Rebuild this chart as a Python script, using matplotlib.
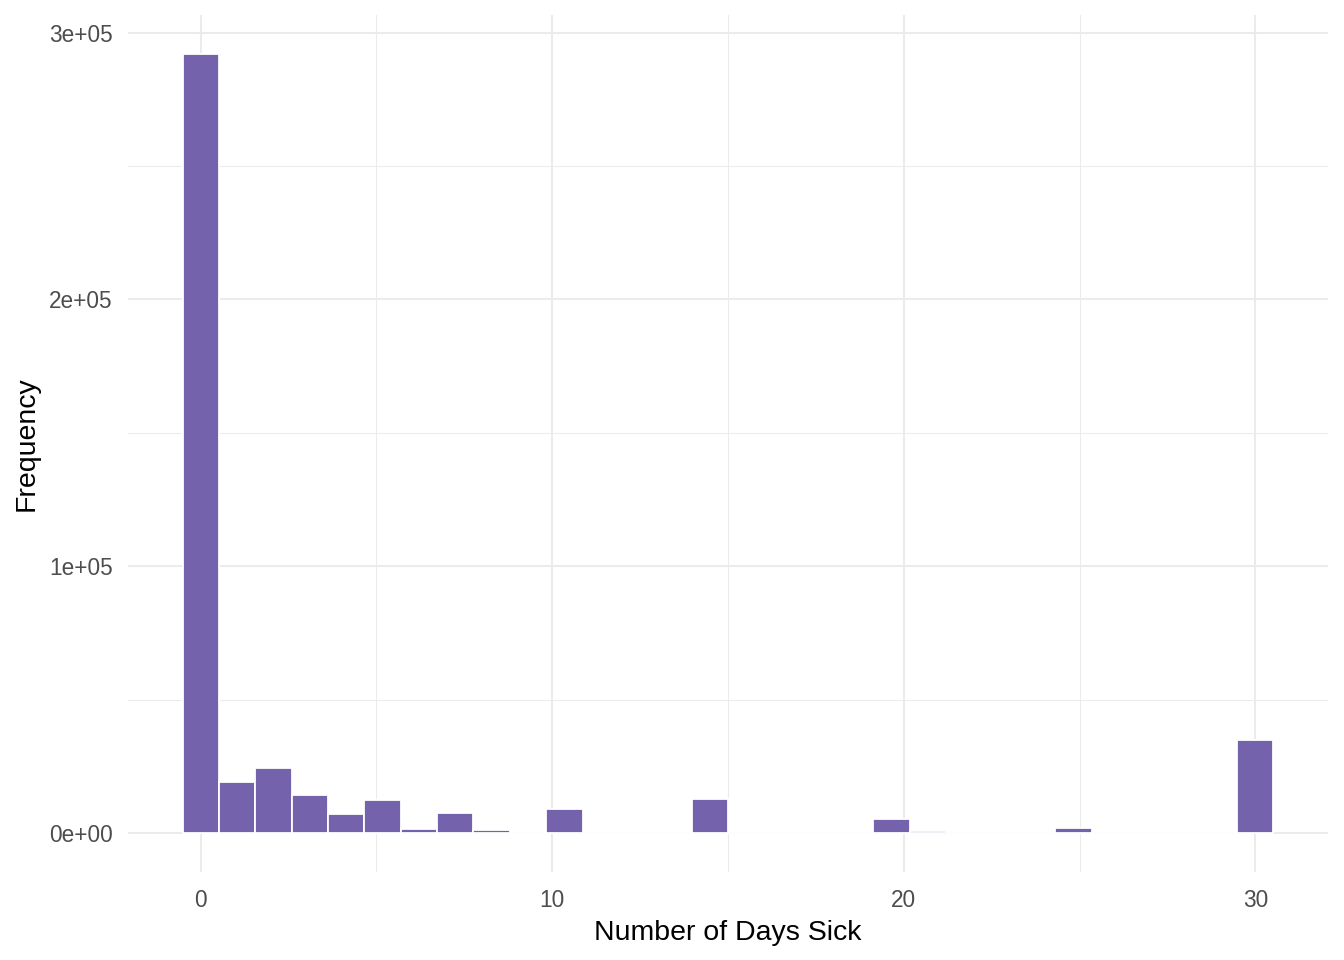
import numpy as np
import matplotlib
matplotlib.use("Agg")
import matplotlib.pyplot as plt
from matplotlib.ticker import FixedLocator, FuncFormatter

plt.rcParams['font.family'] = ['Liberation Sans', 'DejaVu Sans']

# histogram of days sick: 30 bins spanning 0..30 (ggplot bins = 30)
day_min = 0
day_max = 30
n_bins = 30
counts = [292000, 19000, 24300, 14200, 7000, 12300, 1400, 7400, 1100, 0,
          8900, 0, 0, 0, 12700, 0, 0, 0, 0, 5200,
          700, 0, 0, 0, 1800, 0, 0, 0, 0, 35000]

x_ticks = [0, 10, 20, 30]
y_ticks = [0, 100000, 200000, 300000]
y_tick_labels = ['0e+00', '1e+05', '2e+05', '3e+05']

bar_color = '#7463AC'
grid_color = '#EBEBEB'

binwidth = (day_max - day_min) / (n_bins - 1)
centers = day_min + binwidth * np.arange(n_bins)

fig = plt.figure(figsize=(13.44, 9.6), dpi=100)
ax = fig.add_axes([128 / 1344, 88 / 960, 1200 / 1344, 857 / 960])

ax.bar(centers, counts, width=binwidth, color=bar_color,
       edgecolor='white', linewidth=1.3, zorder=3)

# ggplot-style 5% expansion
lo = centers[0] - binwidth / 2
hi = centers[-1] + binwidth / 2
pad = (hi - lo) * 0.05
ax.set_xlim(lo - pad, hi + pad)
ymax = max(counts)
ax.set_ylim(-ymax * 0.05, ymax * 1.05)

ax.xaxis.set_major_locator(FixedLocator(x_ticks))
ax.xaxis.set_minor_locator(FixedLocator([5, 15, 25]))
ax.yaxis.set_major_locator(FixedLocator(y_ticks))
ax.yaxis.set_minor_locator(FixedLocator([50000, 150000, 250000]))
ax.yaxis.set_major_formatter(FuncFormatter(lambda v, p: y_tick_labels[y_ticks.index(int(v))]))

ax.grid(which='major', color=grid_color, linewidth=1.5, zorder=0)
ax.grid(which='minor', color=grid_color, linewidth=0.75, zorder=0)
ax.set_axisbelow(True)

for s in ax.spines.values():
    s.set_visible(False)
ax.tick_params(which='both', length=0)
ax.tick_params(axis='both', labelsize=16.3, labelcolor='#4D4D4D')
ax.tick_params(axis='x', pad=12)
ax.tick_params(axis='y', pad=11)

ax.set_xlabel('Number of Days Sick', fontsize=20.5, color='black', labelpad=6)
ax.set_ylabel('Frequency', fontsize=20.5, color='black', labelpad=7)

fig.savefig('out.png', dpi=100, facecolor='white')
